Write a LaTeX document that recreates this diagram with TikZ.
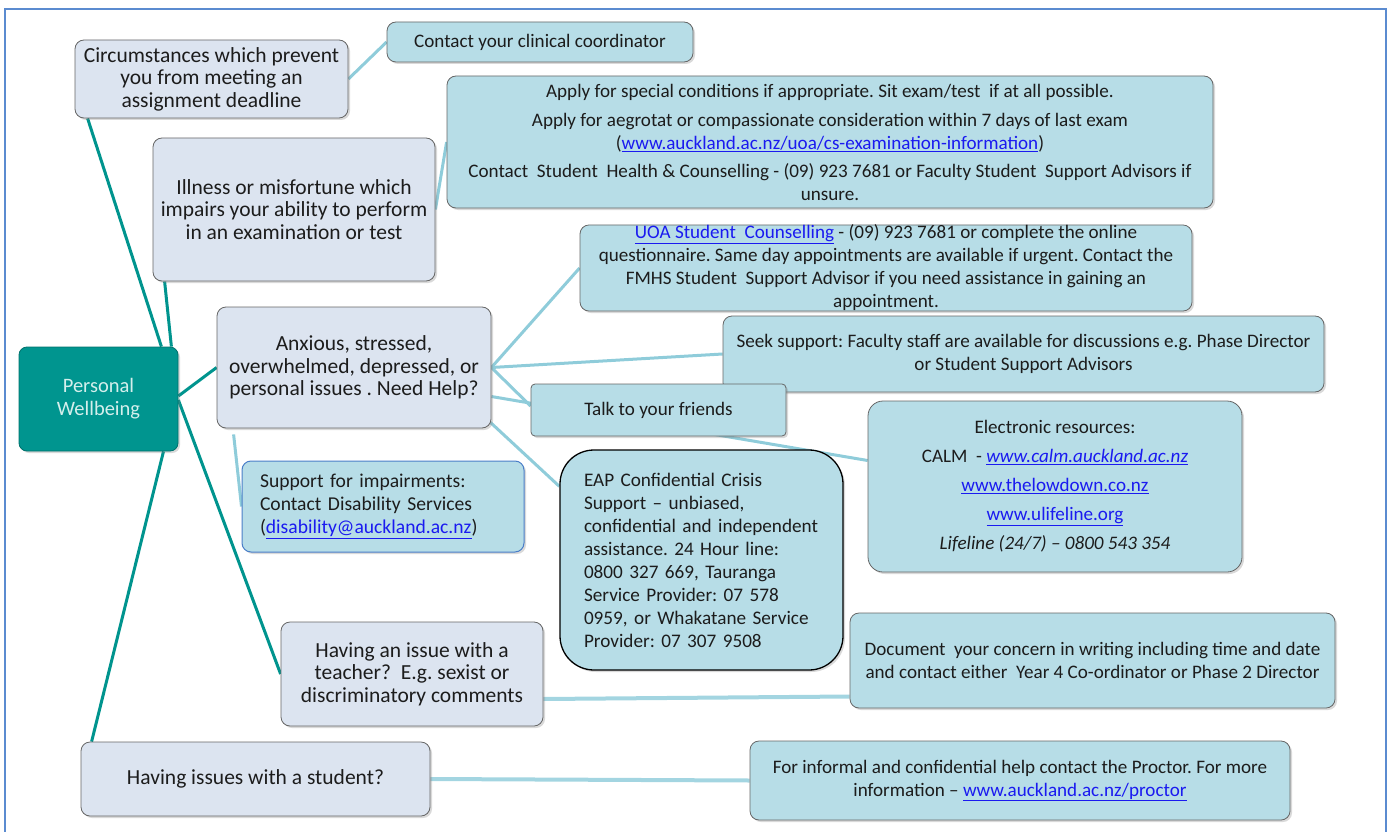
\documentclass[tikz,border=0pt]{standalone}
\usepackage{fontspec}
\setmainfont{Carlito}
\usetikzlibrary{shadows,calc}
\definecolor{tealfill}{HTML}{00958F}
\definecolor{tealdraw}{HTML}{00716C}
\definecolor{tealline}{HTML}{00948E}
\definecolor{lightline}{HTML}{8FCCDA}
\definecolor{lightline2}{HTML}{A3D5E1}
\definecolor{greyblue}{HTML}{DCE4F0}
\definecolor{cyanbox}{HTML}{B7DDE7}
\definecolor{txt}{HTML}{1C1C1C}
\definecolor{centretxt}{HTML}{D4EFEC}
\definecolor{linkblue}{HTML}{1A1AF0}
\definecolor{framecol}{HTML}{5B8BD0}
\definecolor{suppborder}{HTML}{4A7EC8}
\newcommand{\lnk}[1]{{\color{linkblue}\underline{#1}}}
\pgfdeclarelayer{bg}
\pgfsetlayers{bg,main}
\tikzset{
  boxbase/.style={rounded corners=9pt, draw=gray!80!black, line width=0.8pt, text=txt, inner sep=0pt, align=center,
    drop shadow={opacity=0.3, shadow xshift=2pt, shadow yshift=-2pt}},
  gbox/.style={boxbase, fill=greyblue, font=\frenchspacing\fontsize{21.5}{22.5}\selectfont},
  cbox/.style={boxbase, fill=cyanbox, font=\frenchspacing\fontsize{19.1}{23}\selectfont},
  centrebox/.style={boxbase, rounded corners=8pt, fill=tealfill, draw=tealdraw, text=centretxt, font=\fontsize{20.5}{23}\selectfont},
  tealconn/.style={draw=tealline, line width=3pt},
  lightconn/.style={draw=lightline, line width=3pt},
  lightconnwide/.style={draw=lightline2, line width=4pt},
  framestyle/.style={draw=framecol, line width=1.5pt}
}
\begin{document}
\begin{tikzpicture}[x=1pt,y=-1pt]
\useasboundingbox (0,0) rectangle (1394,832);
\draw[framestyle] (5,9) rectangle (1386,850);

% nodes
\node[centrebox, minimum width=159pt, minimum height=104pt] (pw) at (98.5,399) {Personal\\Wellbeing};
\node[gbox, minimum width=273pt, minimum height=78pt] (circ) at (211.5,79) {Circumstances which prevent\\you from meeting an\\assignment deadline};
\node[cbox, minimum width=306pt, minimum height=40pt] (contact) at (540,42) {Contact your clinical coordinator};
\node[gbox, minimum width=282pt, minimum height=143pt] (ill) at (294,209.5) {Illness or misfortune which\\impairs your ability to perform\\in an examination or test};
\node[cbox, minimum width=766pt, minimum height=132pt] (apply) at (830,142) {Apply for special conditions if appropriate. Sit exam/test\ \ if at all possible.\\[6pt]
Apply for aegrotat or compassionate consideration within 7 days of last exam\\
(\lnk{www.auckland.ac.nz/uoa/cs-examination-information})\\[5pt]
Contact\ \ Student\ \ Health \& Counselling - (09) 923 7681 or Faculty Student\ \ Support Advisors if\\unsure.};
\node[cbox, minimum width=612pt, minimum height=80pt] (uoa) at (886,268) {\lnk{UOA Student\ \ Counselling} - (09) 923 7681 or complete the online\\
questionnaire. Same day appointments are available if urgent. Contact the\\
FMHS Student\ \ Support Advisor if you need assistance in gaining an\\appointment.};
\node[gbox, minimum width=274pt, minimum height=121pt] (anx) at (354,367.5) {Anxious, stressed,\\overwhelmed, depressed, or\\personal issues . Need Help?};
\node[cbox, minimum width=601pt, minimum height=76pt] (seek) at (1023.5,354) {Seek support: Faculty staff are available for discussions e.g. Phase Director\\or Student Support Advisors};
\node[cbox, rounded corners=4pt, minimum width=255pt, minimum height=52pt] (talk) at (658.5,410) {Talk to your friends};
\node[cbox, rounded corners=15pt, minimum width=374pt, minimum height=171pt, font=\frenchspacing\fontsize{19.1}{29}\selectfont] (elec) at (1055,486.5) {Electronic resources:\\
CALM\ \ - \lnk{\itshape www.calm.auckland.ac.nz}\\
\lnk{www.thelowdown.co.nz}\\
\lnk{www.ulifeline.org}\\
\itshape Lifeline (24/7) -- 0800 543 354};
\node[cbox, draw=suppborder, line width=1pt, align=left, text width=246pt, inner xsep=18pt, minimum height=91pt, font=\frenchspacing\fontsize{19.6}{23}\selectfont] (supp) at (383,506.5) {Support for impairments:\\Contact Disability Services\\(\lnk{disability@auckland.ac.nz})};
\node[cbox, draw=black, line width=1.3pt, rounded corners=34pt, align=left, text width=235pt, inner xsep=24pt, minimum height=220pt, font=\frenchspacing\fontsize{19.2}{23}\selectfont] (eap) at (701.5,560) {EAP Confidential Crisis\\Support -- unbiased,\\confidential and independent\\assistance. 24 Hour line:\\0800 327 669, Tauranga\\Service Provider: 07 578\\0959, or Whakatane Service\\Provider: 07 307 9508};
\node[gbox, minimum width=262pt, minimum height=104pt] (teach) at (412,674) {Having an issue with a\\teacher?\ \ E.g. sexist or\\discriminatory comments};
\node[cbox, minimum width=485pt, minimum height=95pt] (doc) at (1092.5,660.5) {Document\ \ your concern in writing including time and date\\and contact either\ \ Year 4 Co-ordinator or Phase 2 Director};
\node[gbox, minimum width=349pt, minimum height=74pt] (stud) at (255.5,779) {Having issues with a student?};
\node[cbox, minimum width=540pt, minimum height=79pt] (proc) at (1020,780.5) {For informal and confidential help contact the Proctor. For more\\information -- \lnk{www.auckland.ac.nz/proctor}};

% connectors
\begin{pgfonlayer}{bg}
\draw[tealconn] ($(pw.north east)+(-17,0)$) -- ($(circ.south west)+(13,0)$);
\draw[tealconn] ($(pw.north east)+(-7,0)$) -- ($(ill.south west)+(12,0)$);
\draw[tealconn] ($(pw.east)+(0,-3)$) -- (anx.west);
\draw[tealconn] ($(pw.east)+(0,1)$) -- (teach.west);
\draw[tealconn] ($(pw.south)+(65,0)$) -- ($(stud.north west)+(11,0)$);
\draw[lightconn] (circ.east) -- (contact.west);
\draw[lightconn] (ill.east) -- (apply.west);
\draw[lightconn] (anx.east) -- (uoa.west);
\draw[lightconn] (anx.east) -- (seek.west);
\draw[lightconn] (anx.east) -- ($(talk.west)+(0,-4)$);
\draw[lightconn] ($(anx.east)+(0,29)$) -- ($(elec.west)+(0,-26)$);
\draw[lightconn] ($(anx.south east)+(-1,-6)$) -- ($(eap.north west)+(0,37)$);
\coordinate (suppstart) at ($(anx.south west)+(17,6)$);
\draw[lightconn] (suppstart) -- (supp.west);
\draw[lightconnwide] ($(teach.east)+(0,25)$) -- ($(doc.west)+(0,36)$);
\draw[lightconnwide] (stud.east) -- (proc.west);
\end{pgfonlayer}
\end{tikzpicture}
\end{document}
